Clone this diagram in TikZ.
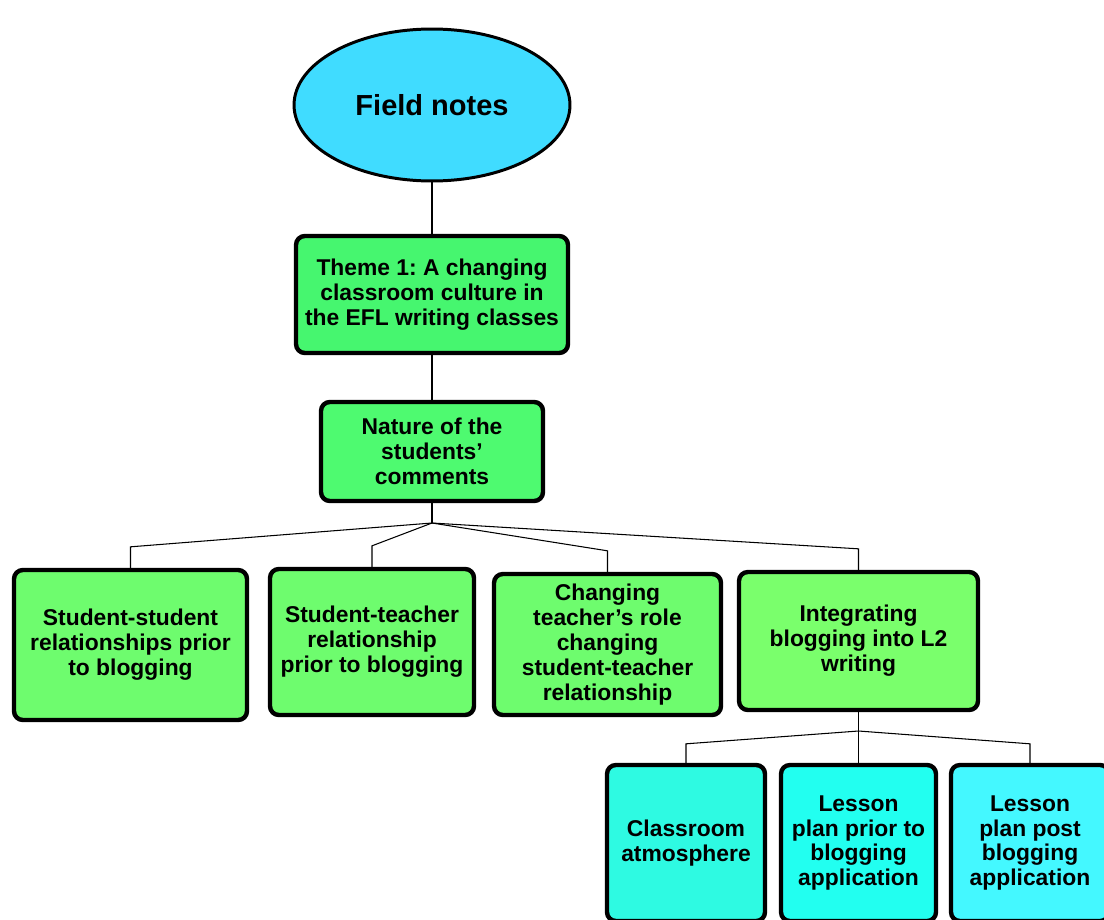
\documentclass[tikz,border=0pt]{standalone}
\usepackage{fontspec}
\setmainfont{Liberation Sans}
\usepackage{xcolor}
\usetikzlibrary{shapes.geometric, positioning, calc}
\definecolor{FieldBlue}{RGB}{64,220,255}
\definecolor{ThemeGreen}{RGB}{70,246,111}
\definecolor{NatureGreen}{RGB}{78,250,112}
\definecolor{SubGreen}{RGB}{110,252,110}
\definecolor{LightGreen}{RGB}{122,255,108}
\definecolor{AquaA}{RGB}{46,250,226}
\definecolor{AquaB}{RGB}{34,255,240}
\definecolor{AquaC}{RGB}{68,248,255}
\frenchspacing

\begin{document}
\begin{tikzpicture}[x=0.02cm, y=-0.02cm,
    every node/.style={font=\fontsize{13}{14.2}\selectfont\bfseries, align=center},
    box/.style={draw=black, line width=2.5pt, rounded corners=5pt, inner sep=2pt},
    link/.style={draw=black, line width=0.6pt}]
  \useasboundingbox (0,0) rectangle (1104,919);

  % top
  \node[ellipse, draw=black, line width=1.7pt, fill=FieldBlue, minimum width=5.52cm,
        minimum height=3.04cm, font=\fontsize{16.5}{18}\selectfont\bfseries] (field) at (432,105) {Field notes};
  \node[box, fill=ThemeGreen, minimum width=5.44cm, minimum height=2.34cm] (theme) at (432,294.5)
    {Theme 1: A changing\\classroom culture in\\the EFL writing classes};
  \node[box, fill=NatureGreen, minimum width=4.44cm, minimum height=1.98cm] (nature) at (432,451.5)
    {Nature of the\\students'\\comments};

  % second row
  \node[box, fill=SubGreen, minimum width=4.66cm, minimum height=3.0cm] (prior) at (130.5,645)
    {Student-student\\relationships prior\\to blogging};
  \node[box, fill=SubGreen, minimum width=4.08cm, minimum height=2.92cm] (teacher) at (372,642)
    {Student-teacher\\relationship\\prior to blogging};
  \node[box, fill=SubGreen, minimum width=4.54cm, minimum height=2.82cm] (role) at (607.5,644.5)
    {Changing\\teacher's role\\changing\\student-teacher\\relationship};
  \node[box, fill=LightGreen, minimum width=4.78cm, minimum height=2.76cm] (integ) at (858.5,641)
    {Integrating\\blogging into L2\\writing};

  % third row
  \node[box, fill=AquaA, minimum width=3.16cm, minimum height=3.12cm] (atmos) at (686,843)
    {Classroom\\atmosphere};
  \node[box, fill=AquaB, minimum width=3.1cm, minimum height=3.12cm] (planpre) at (858.5,843)
    {Lesson\\plan prior to\\blogging\\application};
  \node[box, fill=AquaC, minimum width=3.16cm, minimum height=3.12cm] (planpost) at (1030,843)
    {Lesson\\plan post\\blogging\\application};

  % connectors
  \coordinate (j1) at (432,523);
  \coordinate (j2) at (858.5,731);
  \draw[link] (field.south) -- (theme.north);
  \draw[link] (theme.south) -- (nature.north);
  \draw[link] (nature.south) -- (j1);
  \foreach \n in {prior, teacher, role, integ}
    \draw[link] (j1) -- ($(\n.north)+(0,-21)$) -- (\n.north);
  \draw[link] (integ.south) -- (j2);
  \foreach \n in {atmos, planpost}
    \draw[link] (j2) -- ($(\n.north)+(0,-19)$) -- (\n.north);
  \draw[link] (j2) -- (planpre.north);
\end{tikzpicture}
\end{document}
